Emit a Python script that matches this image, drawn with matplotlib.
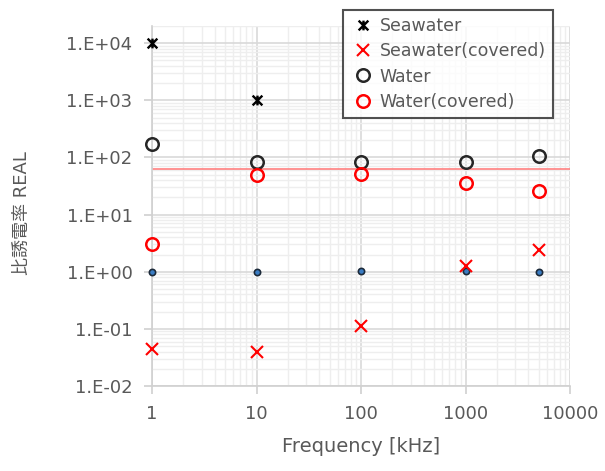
import math
import matplotlib.pyplot as plt
from matplotlib.path import Path
from matplotlib.ticker import LogLocator, FuncFormatter, NullFormatter

plt.rcParams['font.family'] = ['DejaVu Sans', 'Noto Sans CJK JP']

freq = [1, 10, 100, 1000, 5000]
seawater_f = [1, 10]
seawater = [10000, 1000]
seawater_cov = [0.045, 0.039, 0.114, 1.27, 2.4]
water = [170, 84, 84, 84, 108]
water_cov = [3.05, 50, 52, 36, 26]
air = [1.0, 1.0, 1.03, 1.03, 1.0]
ref_level = 64

gray = '#595959'

# x plus a vertical bar, like the spreadsheet "star" marker
star = Path([(-1, -1), (1, 1), (-1, 1), (1, -1), (0, -1), (0, 1)],
            [Path.MOVETO, Path.LINETO, Path.MOVETO, Path.LINETO,
             Path.MOVETO, Path.LINETO])

fig = plt.figure(figsize=(6.05, 4.71), dpi=100)
ax = fig.add_axes([152 / 605, 1 - 386 / 471, 418 / 605, 360 / 471])

ax.plot([1, 10000], [ref_level, ref_level], color='#ff8080', lw=1.2, zorder=2)
ax.plot(freq, air, 'o', ms=4.5, mfc='#3b7dc4', mec='#1c2a3a', mew=1.2,
        ls='none', zorder=3, clip_on=False)
ax.plot(seawater_f, seawater, marker=star, ms=7, color='black', mew=1.7,
        ls='none', label='Seawater', zorder=4, clip_on=False)
ax.plot(freq, seawater_cov, 'x', ms=8, color='red', mew=1.5, ls='none',
        label='Seawater(covered)', zorder=4, clip_on=False)
ax.plot(freq, water, 'o', ms=9, mfc='none', mec='#262626', mew=1.8,
        ls='none', label='Water', zorder=4, clip_on=False)
ax.plot(freq, water_cov, 'o', ms=9, mfc='none', mec='red', mew=1.8,
        ls='none', label='Water(covered)', zorder=4, clip_on=False)

ax.set_xscale('log')
ax.set_yscale('log')
ax.set_xlim(1, 10000)
ax.set_ylim(0.01, 20000)

ax.xaxis.set_major_locator(LogLocator(base=10, numticks=10))
ax.xaxis.set_minor_locator(LogLocator(base=10, subs=range(2, 10), numticks=20))
ax.yaxis.set_major_locator(LogLocator(base=10, numticks=10))
ax.yaxis.set_minor_locator(LogLocator(base=10, subs=range(2, 10), numticks=20))
ax.xaxis.set_major_formatter(FuncFormatter(lambda v, p: '%d' % v))
ax.yaxis.set_major_formatter(FuncFormatter(lambda v, p: '1.E%+03d' % round(math.log10(v))))
ax.xaxis.set_minor_formatter(NullFormatter())
ax.yaxis.set_minor_formatter(NullFormatter())

ax.grid(which='major', color='#d9d9d9', lw=1.2)
ax.grid(which='minor', color='#eeeeee', lw=1.0)
ax.set_axisbelow(True)

for s in ['top', 'right']:
    ax.spines[s].set_visible(False)
for s in ['left', 'bottom']:
    ax.spines[s].set_color('#d0d0d0')
    ax.spines[s].set_linewidth(1.2)

ax.tick_params(which='major', length=6, color='#d0d0d0', width=1.2,
               labelsize=13, labelcolor=gray, pad=8)
ax.tick_params(which='minor', length=0)

ax.set_xlabel('Frequency [kHz]', fontsize=14, color=gray, labelpad=10)
ax.set_ylabel('比誘電率 REAL', fontsize=13, color=gray)
ax.yaxis.set_label_coords(-0.29, 0.48)

leg = ax.legend(loc='upper left', bbox_to_anchor=(343 / 605, 1 - 10 / 471),
                bbox_transform=fig.transFigure, fontsize=12.5, frameon=True,
                fancybox=False, borderpad=0.4, borderaxespad=0,
                handletextpad=0.2, handlelength=1.5, labelspacing=0.42)
leg.get_frame().set_edgecolor('#262626')
leg.get_frame().set_linewidth(1.5)
for t in leg.get_texts():
    t.set_color(gray)

plt.savefig('out.png', dpi=100)
